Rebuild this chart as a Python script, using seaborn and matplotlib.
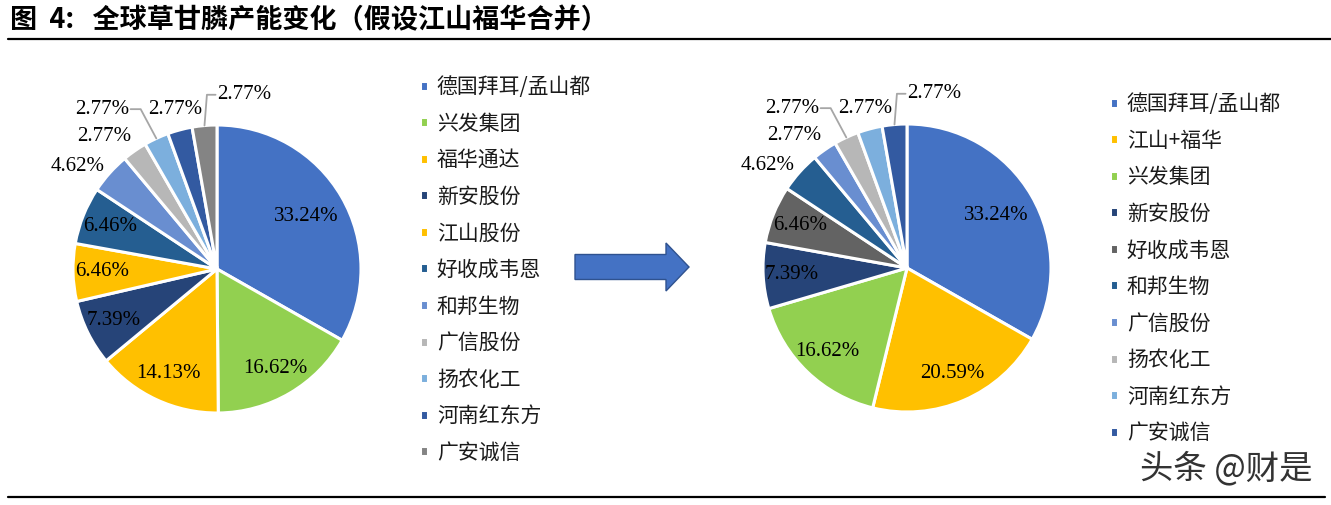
import numpy as np
import matplotlib
matplotlib.use('Agg')
import matplotlib.pyplot as plt
import seaborn as sns
from matplotlib.patches import FancyArrow

sns.set_theme(style='white')
plt.rcParams['font.family'] = ['Noto Sans CJK SC', 'DejaVu Sans']

# data
title = '图  4:   全球草甘膦产能变化（假设江山福华合并）'

before_names = ['德国拜耳/孟山都', '兴发集团', '福华通达', '新安股份', '江山股份', '好收成韦恩',
                '和邦生物', '广信股份', '扬农化工', '河南红东方', '广安诚信']
before_share = [33.24, 16.62, 14.13, 7.39, 6.46, 6.46, 4.62, 2.77, 2.77, 2.77, 2.77]
before_colors = ['#4472C4', '#92D050', '#FFC000', '#264478', '#FFC000', '#255E91',
                 '#698ED0', '#B7B7B7', '#7CAFDD', '#335AA1', '#848484']

after_names = ['德国拜耳/孟山都', '江山+福华', '兴发集团', '新安股份', '好收成韦恩', '和邦生物',
               '广信股份', '扬农化工', '河南红东方', '广安诚信']
after_share = [33.24, 20.59, 16.62, 7.39, 6.46, 4.62, 2.77, 2.77, 2.77, 2.77]
after_colors = ['#4472C4', '#FFC000', '#92D050', '#264478', '#636363', '#255E91',
                '#698ED0', '#B7B7B7', '#7CAFDD', '#335AA1']

watermark = '头条 @财是'

# layout (pixels)
W, H = 1331, 505
R = 144
# outside label spots for the five small slices (pie radius units), and which get leader lines
small_spots = [(-0.97, 0.71), (-0.78, 0.92), (-0.80, 1.11), (-0.29, 1.11), (0.19, 1.21)]
leader_idx = {2: 'right', 4: 'left'}

fig = plt.figure(figsize=(W / 100, H / 100), dpi=100)

# overlay axes in pixel space for rules and the arrow
over = fig.add_axes([0, 0, 1, 1])
over.set_xlim(0, W)
over.set_ylim(H, 0)
over.axis('off')
over.plot([8, W], [39, 39], color='black', lw=1.6)
over.plot([8, 1325], [497, 497], color='black', lw=1.6)
over.add_patch(FancyArrow(575, 267, 114, 0, width=25, head_width=48, head_length=23,
                          length_includes_head=True, facecolor='#4472C4', edgecolor='#2F528F', lw=1))


def draw_pie(cx, cy, values, colors, names, legend_xy):
    box = 1.5 * R
    ax = fig.add_axes([(cx - box) / W, (H - cy - box) / H, 2 * box / W, 2 * box / H])
    wedges, _ = ax.pie(values, colors=colors, startangle=90, counterclock=False,
                       wedgeprops=dict(edgecolor='white', linewidth=2.2))
    ax.set_xlim(-1.5, 1.5)
    ax.set_ylim(-1.5, 1.5)
    ax.set_aspect('equal')
    ax.axis('off')

    n_small = len(small_spots)
    for i, (w, v) in enumerate(zip(wedges, values)):
        mid = np.deg2rad((w.theta1 + w.theta2) / 2)
        txt = f'{v:.2f}%'
        if i < len(values) - n_small:
            r = 0.72 if v > 30 else 0.8
            ax.text(r * np.cos(mid), r * np.sin(mid), txt, ha='center', va='center',
                    fontsize=15, family='Liberation Serif', color='black')
        else:
            k = i - (len(values) - n_small)
            lx, ly = small_spots[k]
            ax.text(lx, ly, txt, ha='center', va='center',
                    fontsize=15, family='Liberation Serif', color='black')
            if k in leader_idx:
                ex, ey = np.cos(mid), np.sin(mid)
                if leader_idx[k] == 'right':
                    x0, x1 = lx + 0.2, lx + 0.27
                else:
                    x0, x1 = lx - 0.2, lx - 0.26
                ax.plot([x0, x1, ex], [ly, ly, ey], color='#A6A6A6', lw=1.3)

    fig.legend(wedges, names, loc='upper left',
               bbox_to_anchor=(legend_xy[0] / W, 1 - legend_xy[1] / H),
               frameon=False, fontsize=15, handlelength=0.36, handleheight=0.36,
               handletextpad=0.45, labelspacing=0.70, borderpad=0, borderaxespad=0,
               labelcolor='#1a1a1a')


draw_pie(217, 269, before_share, before_colors, before_names, (420, 76))
draw_pie(907, 268, after_share, after_colors, after_names, (1110, 93))

fig.text(10 / W, 1 - 20 / H, title, fontsize=19.5, fontweight='bold', va='center', color='black')
fig.text(1140 / W, 1 - 469 / H, watermark, fontsize=24, va='center', color='#333333')

fig.savefig('out.png', dpi=100)
